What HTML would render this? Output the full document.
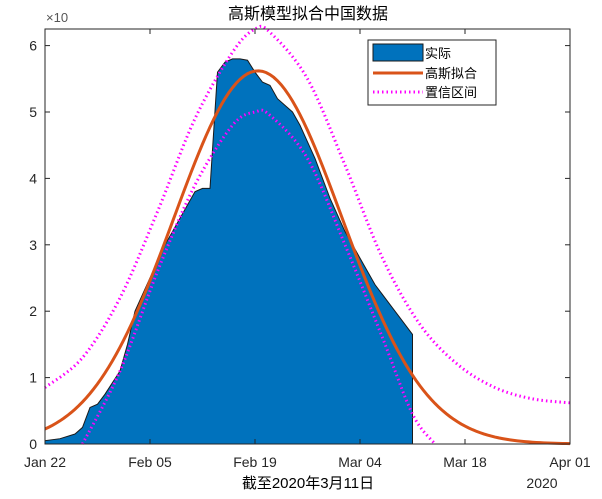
<!DOCTYPE html>
<html><head><meta charset="utf-8"><style>
body{margin:0;background:#fff;}
svg text{font-family:"Liberation Sans","Noto Sans CJK SC",sans-serif;}
</style></head><body>
<svg id="chart" width="602" height="494" viewBox="0 0 602 494" xmlns="http://www.w3.org/2000/svg">
<rect width="602" height="494" fill="#fff"/>
<g id="plot"></g>
</svg>
<script>
const xTickLabels = ["Jan 22","Feb 05","Feb 19","Mar 04","Mar 18","Apr 01"];
const xTickDays = [0,14,28,42,56,70];
const yTickLabels = ["0","1","2","3","4","5","6"];
const yTickValues = [0,1,2,3,4,5,6];
const actualDays = [0,2,4,5,6,7,8,10,11,12,14,16,18,19,20,21,22,23,24,25,26,27,28,29,30,31,32,33,34,36,38,40,42,44,46,48,49];
const actualValues = [0.05,0.08,0.15,0.25,0.55,0.6,0.75,1.1,1.5,2.0,2.5,3.0,3.4,3.6,3.8,3.85,3.85,5.6,5.75,5.8,5.8,5.78,5.6,5.45,5.4,5.2,5.1,5.0,4.8,4.3,3.7,3.2,2.8,2.4,2.1,1.8,1.65];
const fitParams = [5.62, 28.4, 11.2]; // amplitude, mean day, sigma
const upperDays = [0,5,10,15,20,25,28,30,35,40,45,50,55,60,65,70];
const upperValues = [0.85,1.3,2.2,3.5,4.9,5.9,6.25,6.2,5.5,4.2,2.8,1.8,1.2,0.85,0.68,0.62];
const lowerDays = [5,10,15,20,25,28,30,35,40,45,49,52];
const lowerValues = [0,1.1,2.6,3.9,4.8,5.0,4.95,4.3,3.0,1.6,0.45,0];

const L=45,R=570,T=29,B=444;
const X=d=>L+(d/70)*(R-L);
const Y=v=>B-v*66.4;
const NS="http://www.w3.org/2000/svg";
const g=document.getElementById('plot');
function mk(tag,attrs,parent){const e=document.createElementNS(NS,tag);for(const k in attrs)e.setAttribute(k,attrs[k]);(parent||g).appendChild(e);return e;}
function smooth(xs,ys){ // catmull-rom
  const p=xs.map((x,i)=>[X(x),Y(ys[i])]);let d=`M${p[0][0]},${p[0][1]}`;
  for(let i=0;i<p.length-1;i++){const p0=p[i-1]||p[i],p1=p[i],p2=p[i+1],p3=p[i+2]||p2;
    d+=` C${p1[0]+(p2[0]-p0[0])/6},${p1[1]+(p2[1]-p0[1])/6} ${p2[0]-(p3[0]-p1[0])/6},${p2[1]-(p3[1]-p1[1])/6} ${p2[0]},${p2[1]}`;}
  return d;}

// area
let ad=`M${X(actualDays[0])},${Y(0)}`;
actualDays.forEach((d,i)=>ad+=` L${X(d)},${Y(actualValues[i])}`);
ad+=` L${X(actualDays[actualDays.length-1])},${Y(0)} Z`;
const area=mk('path',{d:ad,fill:'#0072bd',stroke:'#1a1a1a','stroke-width':1});



// fit
let fd='';for(let d=0;d<=70;d+=0.5){const v=fitParams[0]*Math.exp(-((d-fitParams[1])**2)/(2*fitParams[2]**2));fd+=(d?' L':'M')+X(d)+','+Y(v);}
const fit=mk('path',{d:fd,fill:'none',stroke:'#d95319','stroke-width':3});



const up=mk('path',{d:smooth(upperDays,upperValues),fill:'none',stroke:'#ff00ff','stroke-width':3,'stroke-dasharray':'1.5 3'});


const lo=mk('path',{d:smooth(lowerDays,lowerValues),fill:'none',stroke:'#ff00ff','stroke-width':3,'stroke-dasharray':'1.5 3'});



// axes box
const box=mk('rect',{x:L,y:T,width:R-L,height:B-T,fill:'none',stroke:'#262626','stroke-width':1});



xTickDays.forEach((d,i)=>{
  mk('line',{x1:X(d),x2:X(d),y1:B,y2:B-5,stroke:'#262626'});
  mk('line',{x1:X(d),x2:X(d),y1:T,y2:T+5,stroke:'#262626'});
  const t=mk('text',{x:X(d),y:B+23,'text-anchor':'middle','font-size':14,fill:'#262626'});
  t.textContent=xTickLabels[i];
  
  
});
yTickValues.forEach((v,i)=>{
  mk('line',{x1:L,x2:L+5,y1:Y(v),y2:Y(v),stroke:'#262626'});
  mk('line',{x1:R,x2:R-5,y1:Y(v),y2:Y(v),stroke:'#262626'});
  const t=mk('text',{x:L-8,y:Y(v)+5,'text-anchor':'end','font-size':14,fill:'#262626'});
  t.textContent=yTickLabels[i];
  
  
});
</script>
<svg style="position:absolute;left:0;top:0" width="602" height="494">
<text x="46" y="22" font-size="13" fill="#555">×10</text>
<text x="308" y="19" text-anchor="middle" font-size="16" fill="#000">高斯模型拟合中国数据</text>
<text x="308" y="488" text-anchor="middle" font-size="15" fill="#000">截至2020年3月11日</text>
<text x="542" y="488" text-anchor="middle" font-size="14" fill="#262626">2020</text>
<g>
<rect x="368" y="40" width="128" height="65" fill="#fff" stroke="#262626"/>
<rect x="373" y="44" width="50" height="17" fill="#0072bd" stroke="#1a1a1a"/>
<text x="425" y="58" font-size="13">实际</text>
<line x1="373" y1="73" x2="423" y2="73" stroke="#d95319" stroke-width="3"/>
<text x="425" y="78" font-size="13">高斯拟合</text>
<line x1="373" y1="92" x2="423" y2="92" stroke="#ff00ff" stroke-width="3" stroke-dasharray="1.5 3"/>
<text x="425" y="97" font-size="13">置信区间</text>
</g>
</svg>
</body></html>
